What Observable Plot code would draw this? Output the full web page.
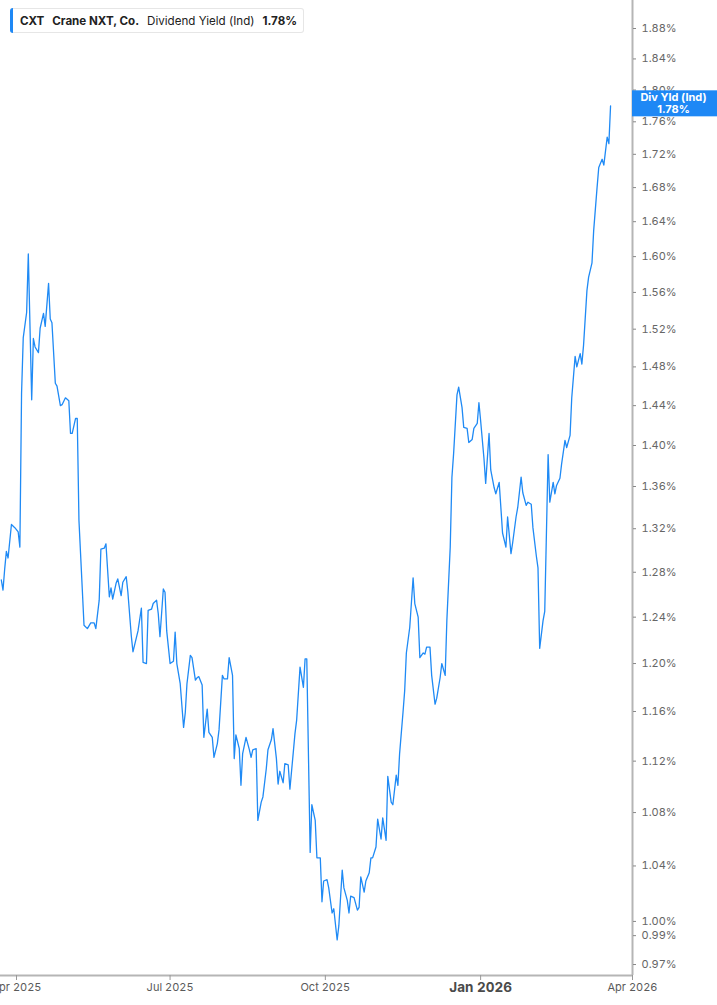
<!DOCTYPE html>
<html>
<head>
<meta charset="utf-8">
<script src="https://cdn.jsdelivr.net/npm/d3@7"></script>
<script src="https://cdn.jsdelivr.net/npm/@observablehq/plot@0.6"></script>
<style>
  html, body { margin: 0; padding: 0; background: #fff; }
  #wrap { position: relative; width: 717px; height: 1005px; overflow: hidden; font-family: Inter, "Open Sans", sans-serif; }
  #legend { position: absolute; left: 10px; top: 8px; height: 25px; box-sizing: border-box; border: 1px solid #e6e6e6; border-left: none; border-radius: 3px; background: #fff; display: flex; align-items: center; font-size: 11.6px; color: #222; padding-right: 6px; }
  #legend .bar { width: 3px; height: 25px; background: #1e88f5; border-radius: 3px 0 0 3px; margin-right: 7px; }
  #legend span.t { margin-right: 8px; white-space: nowrap; }
  #legend span.b { font-weight: 700; }
</style>
</head>
<body>
<div id="wrap"><div id="legend"></div></div>
<script>
const ticker = "CXT";
const company = "Crane NXT, Co.";
const metric = "Dividend Yield (Ind)";
const badgeTitle = "Div Yld (Ind)";

const dates = [
"2025-03-23","2025-03-24","2025-03-25","2025-03-26","2025-03-27","2025-03-29","2025-03-31","2025-04-02","2025-04-03","2025-04-04",
"2025-04-05","2025-04-07","2025-04-08","2025-04-10","2025-04-11","2025-04-12","2025-04-14","2025-04-15","2025-04-17","2025-04-18",
"2025-04-20","2025-04-21","2025-04-22","2025-04-24","2025-04-25","2025-04-27","2025-04-28","2025-04-30","2025-05-02","2025-05-03",
"2025-05-04","2025-05-06","2025-05-07","2025-05-08","2025-05-10","2025-05-11","2025-05-13","2025-05-15","2025-05-17","2025-05-18",
"2025-05-20","2025-05-21","2025-05-23","2025-05-24","2025-05-26","2025-05-27","2025-05-28","2025-05-30","2025-05-31","2025-06-02",
"2025-06-03","2025-06-05","2025-06-06","2025-06-08","2025-06-09","2025-06-11","2025-06-12","2025-06-14","2025-06-15","2025-06-17",
"2025-06-18","2025-06-20","2025-06-21","2025-06-23","2025-06-24","2025-06-25","2025-06-27","2025-06-28","2025-06-29","2025-07-01",
"2025-07-03","2025-07-04","2025-07-05","2025-07-07","2025-07-09","2025-07-10","2025-07-11","2025-07-13","2025-07-14","2025-07-16",
"2025-07-17","2025-07-18","2025-07-20","2025-07-21","2025-07-23","2025-07-24","2025-07-26","2025-07-27","2025-07-29","2025-07-30",
"2025-08-01","2025-08-02","2025-08-04","2025-08-05","2025-08-07","2025-08-08","2025-08-09","2025-08-11","2025-08-12","2025-08-13",
"2025-08-15","2025-08-17","2025-08-18","2025-08-19","2025-08-21","2025-08-22","2025-08-24","2025-08-25","2025-08-27","2025-08-28",
"2025-08-30","2025-08-31","2025-09-02","2025-09-03","2025-09-04","2025-09-06","2025-09-07","2025-09-09","2025-09-10","2025-09-12",
"2025-09-13","2025-09-14","2025-09-16","2025-09-18","2025-09-19","2025-09-20","2025-09-22","2025-09-23","2025-09-25","2025-09-26",
"2025-09-28","2025-09-29","2025-09-30","2025-10-02","2025-10-03","2025-10-05","2025-10-06","2025-10-08","2025-10-09","2025-10-11",
"2025-10-12","2025-10-14","2025-10-15","2025-10-16","2025-10-18","2025-10-20","2025-10-21","2025-10-22","2025-10-24","2025-10-25",
"2025-10-27","2025-10-28","2025-10-29","2025-10-31","2025-11-01","2025-11-03","2025-11-04","2025-11-06","2025-11-07","2025-11-09",
"2025-11-10","2025-11-12","2025-11-13","2025-11-14","2025-11-16","2025-11-17","2025-11-18","2025-11-20","2025-11-22","2025-11-23",
"2025-11-25","2025-11-26","2025-11-28","2025-11-29","2025-11-30","2025-12-02","2025-12-03","2025-12-05","2025-12-06","2025-12-08",
"2025-12-09","2025-12-11","2025-12-12","2025-12-14","2025-12-15","2025-12-16","2025-12-18","2025-12-19","2025-12-21","2025-12-22",
"2025-12-24","2025-12-25","2025-12-27","2025-12-28","2025-12-30","2025-12-31","2026-01-01","2026-01-03","2026-01-04","2026-01-06",
"2026-01-07","2026-01-09","2026-01-10","2026-01-12","2026-01-13","2026-01-14","2026-01-16","2026-01-17","2026-01-19","2026-01-20",
"2026-01-22","2026-01-23","2026-01-25","2026-01-26","2026-01-28","2026-01-29","2026-01-31","2026-02-01","2026-02-03","2026-02-04",
"2026-02-05","2026-02-07","2026-02-08","2026-02-10","2026-02-11","2026-02-13","2026-02-14","2026-02-15","2026-02-17","2026-02-18",
"2026-02-20","2026-02-21","2026-02-23","2026-02-24","2026-02-26","2026-02-27","2026-03-01","2026-03-02","2026-03-03","2026-03-05",
"2026-03-06","2026-03-08","2026-03-09","2026-03-11","2026-03-12","2026-03-14","2026-03-15","2026-03-17","2026-03-18","2026-03-19"
];

const yields = [
1.273,1.264,1.283,1.299,1.293,1.324,1.321,1.317,1.303,1.453,
1.511,1.538,1.603,1.446,1.510,1.501,1.495,1.521,1.537,1.523,
1.570,1.531,1.527,1.463,1.460,1.440,1.441,1.448,1.445,1.412,
1.412,1.427,1.427,1.328,1.264,1.233,1.230,1.235,1.235,1.230,
1.255,1.301,1.302,1.306,1.258,1.266,1.256,1.270,1.274,1.259,
1.271,1.276,1.262,1.224,1.210,1.222,1.228,1.248,1.201,1.200,
1.246,1.247,1.252,1.255,1.243,1.223,1.265,1.262,1.228,1.200,
1.202,1.227,1.200,1.183,1.147,1.159,1.183,1.207,1.205,1.186,
1.188,1.189,1.182,1.139,1.162,1.143,1.139,1.123,1.134,1.145,
1.190,1.187,1.187,1.205,1.190,1.122,1.141,1.130,1.101,1.126,
1.139,1.129,1.123,1.129,1.130,1.074,1.088,1.092,1.114,1.129,
1.137,1.146,1.122,1.102,1.112,1.103,1.118,1.117,1.098,1.127,
1.142,1.153,1.197,1.180,1.204,1.204,1.050,1.086,1.074,1.046,
1.046,1.014,1.029,1.030,1.024,1.006,1.009,0.987,0.997,1.037,
1.024,1.015,1.006,1.018,1.017,1.008,1.010,1.032,1.021,1.029,
1.035,1.046,1.046,1.054,1.075,1.060,1.076,1.059,1.108,1.088,
1.086,1.109,1.101,1.126,1.159,1.177,1.209,1.231,1.275,1.252,
1.240,1.205,1.209,1.208,1.214,1.214,1.190,1.166,1.171,1.188,
1.200,1.190,1.237,1.303,1.369,1.392,1.451,1.459,1.438,1.418,
1.417,1.403,1.406,1.417,1.422,1.443,1.425,1.387,1.363,1.412,
1.376,1.359,1.353,1.364,1.340,1.316,1.303,1.331,1.297,1.307,
1.331,1.340,1.369,1.354,1.342,1.345,1.343,1.321,1.295,1.284,
1.213,1.237,1.245,1.391,1.345,1.364,1.353,1.361,1.368,1.382,
1.405,1.398,1.410,1.448,1.491,1.480,1.494,1.483,1.503,1.562,
1.577,1.593,1.630,1.680,1.704,1.714,1.707,1.741,1.733,1.780
];

const yTicks = [0.97,0.99,1.00,1.04,1.08,1.12,1.16,1.20,1.24,1.28,1.32,1.36,1.40,1.44,1.48,1.52,1.56,1.60,1.64,1.68,1.72,1.76,1.80,1.84,1.88];
const xTickDates = ["2025-04-01","2025-07-01","2025-10-01","2026-01-01","2026-04-01"];
const xTickLabels = ["Apr 2025","Jul 2025","Oct 2025","Jan 2026","Apr 2026"];
const boldTickLabel = "Jan 2026";

const lineColor = "#1f8af5";
const axisColor = "#b5b5b5";

const data = dates.map((d, i) => ({date: new Date(d), value: yields[i]}));
const last = data[data.length - 1];

const xStart = new Date("2025-04-01"), xEnd = new Date("2026-04-01");
const yDomain = [0.9625, 1.9176];
const labelOf = new Map(xTickDates.map((d, i) => [+new Date(d), xTickLabels[i]]));
const tickRegular = xTickDates.filter((d, i) => xTickLabels[i] !== boldTickLabel).map(d => new Date(d));
const tickBold = xTickDates.filter((d, i) => xTickLabels[i] === boldTickLabel).map(d => new Date(d));

const chart = Plot.plot({
  width: 717,
  height: 1005,
  marginLeft: 16,
  marginRight: 85,
  marginTop: 0,
  marginBottom: 30,
  style: {fontFamily: "Inter, 'Open Sans', sans-serif", background: "transparent", overflow: "visible"},
  x: {type: "utc", domain: [xStart, xEnd]},
  y: {type: "log", domain: yDomain},
  marks: [
    Plot.ruleY([{y: yDomain[0], x1: new Date("2025-03-20"), x2: xEnd}], {y: "y", x1: "x1", x2: "x2", stroke: axisColor, strokeWidth: 2}),
    Plot.ruleX([xEnd], {stroke: axisColor, strokeWidth: 2}),
    Plot.axisX(tickRegular, {tickSize: 5, tickPadding: 3, tickFormat: d => labelOf.get(+d), fontSize: 11, fill: "#5a5a5a", stroke: "#999"}),
    Plot.axisX(tickBold, {tickSize: 5, tickPadding: 2, tickFormat: d => labelOf.get(+d), fontSize: 13.5, fontWeight: "bold", fill: "#4a4a4a", stroke: "#999"}),
    Plot.axisY(yTicks, {anchor: "right", tickSize: 3, tickPadding: 6, tickFormat: d => d.toFixed(2) + "%", fontSize: 11, fill: "#666", stroke: "#888"}),
    Plot.line(data, {x: "date", y: "value", stroke: lineColor, strokeWidth: 1.3})
  ]
});

document.getElementById("wrap").appendChild(chart);
chart.style.position = "absolute";
chart.style.left = "0px";
chart.style.top = "0px";

// Badge with the latest value, placed through the chart's own scales
const svg = d3.select(chart);
const bx = chart.scale("x").apply(xEnd);
const by = chart.scale("y").apply(last.value) - 2;
const g = svg.append("g");
g.append("rect").attr("x", bx).attr("y", by - 13).attr("width", 717 - bx).attr("height", 26).attr("fill", "#1e88f5");
g.append("text").attr("x", bx + (717 - bx) / 2 - 1).attr("y", by - 2).attr("text-anchor", "middle")
  .attr("fill", "#fff").attr("font-size", 11).attr("font-weight", "bold").text(badgeTitle);
g.append("text").attr("x", bx + (717 - bx) / 2 - 1).attr("y", by + 10).attr("text-anchor", "middle")
  .attr("fill", "#fff").attr("font-size", 11).attr("font-weight", "bold").text(last.value.toFixed(2) + "%");

// Legend
const legend = document.getElementById("legend");
legend.innerHTML = `<span class="bar"></span><span class="t b">${ticker}</span><span class="t b">${company}</span><span class="t">${metric}</span><span class="t b" style="margin-right:0">${last.value.toFixed(2)}%</span>`;
</script>
</body>
</html>
